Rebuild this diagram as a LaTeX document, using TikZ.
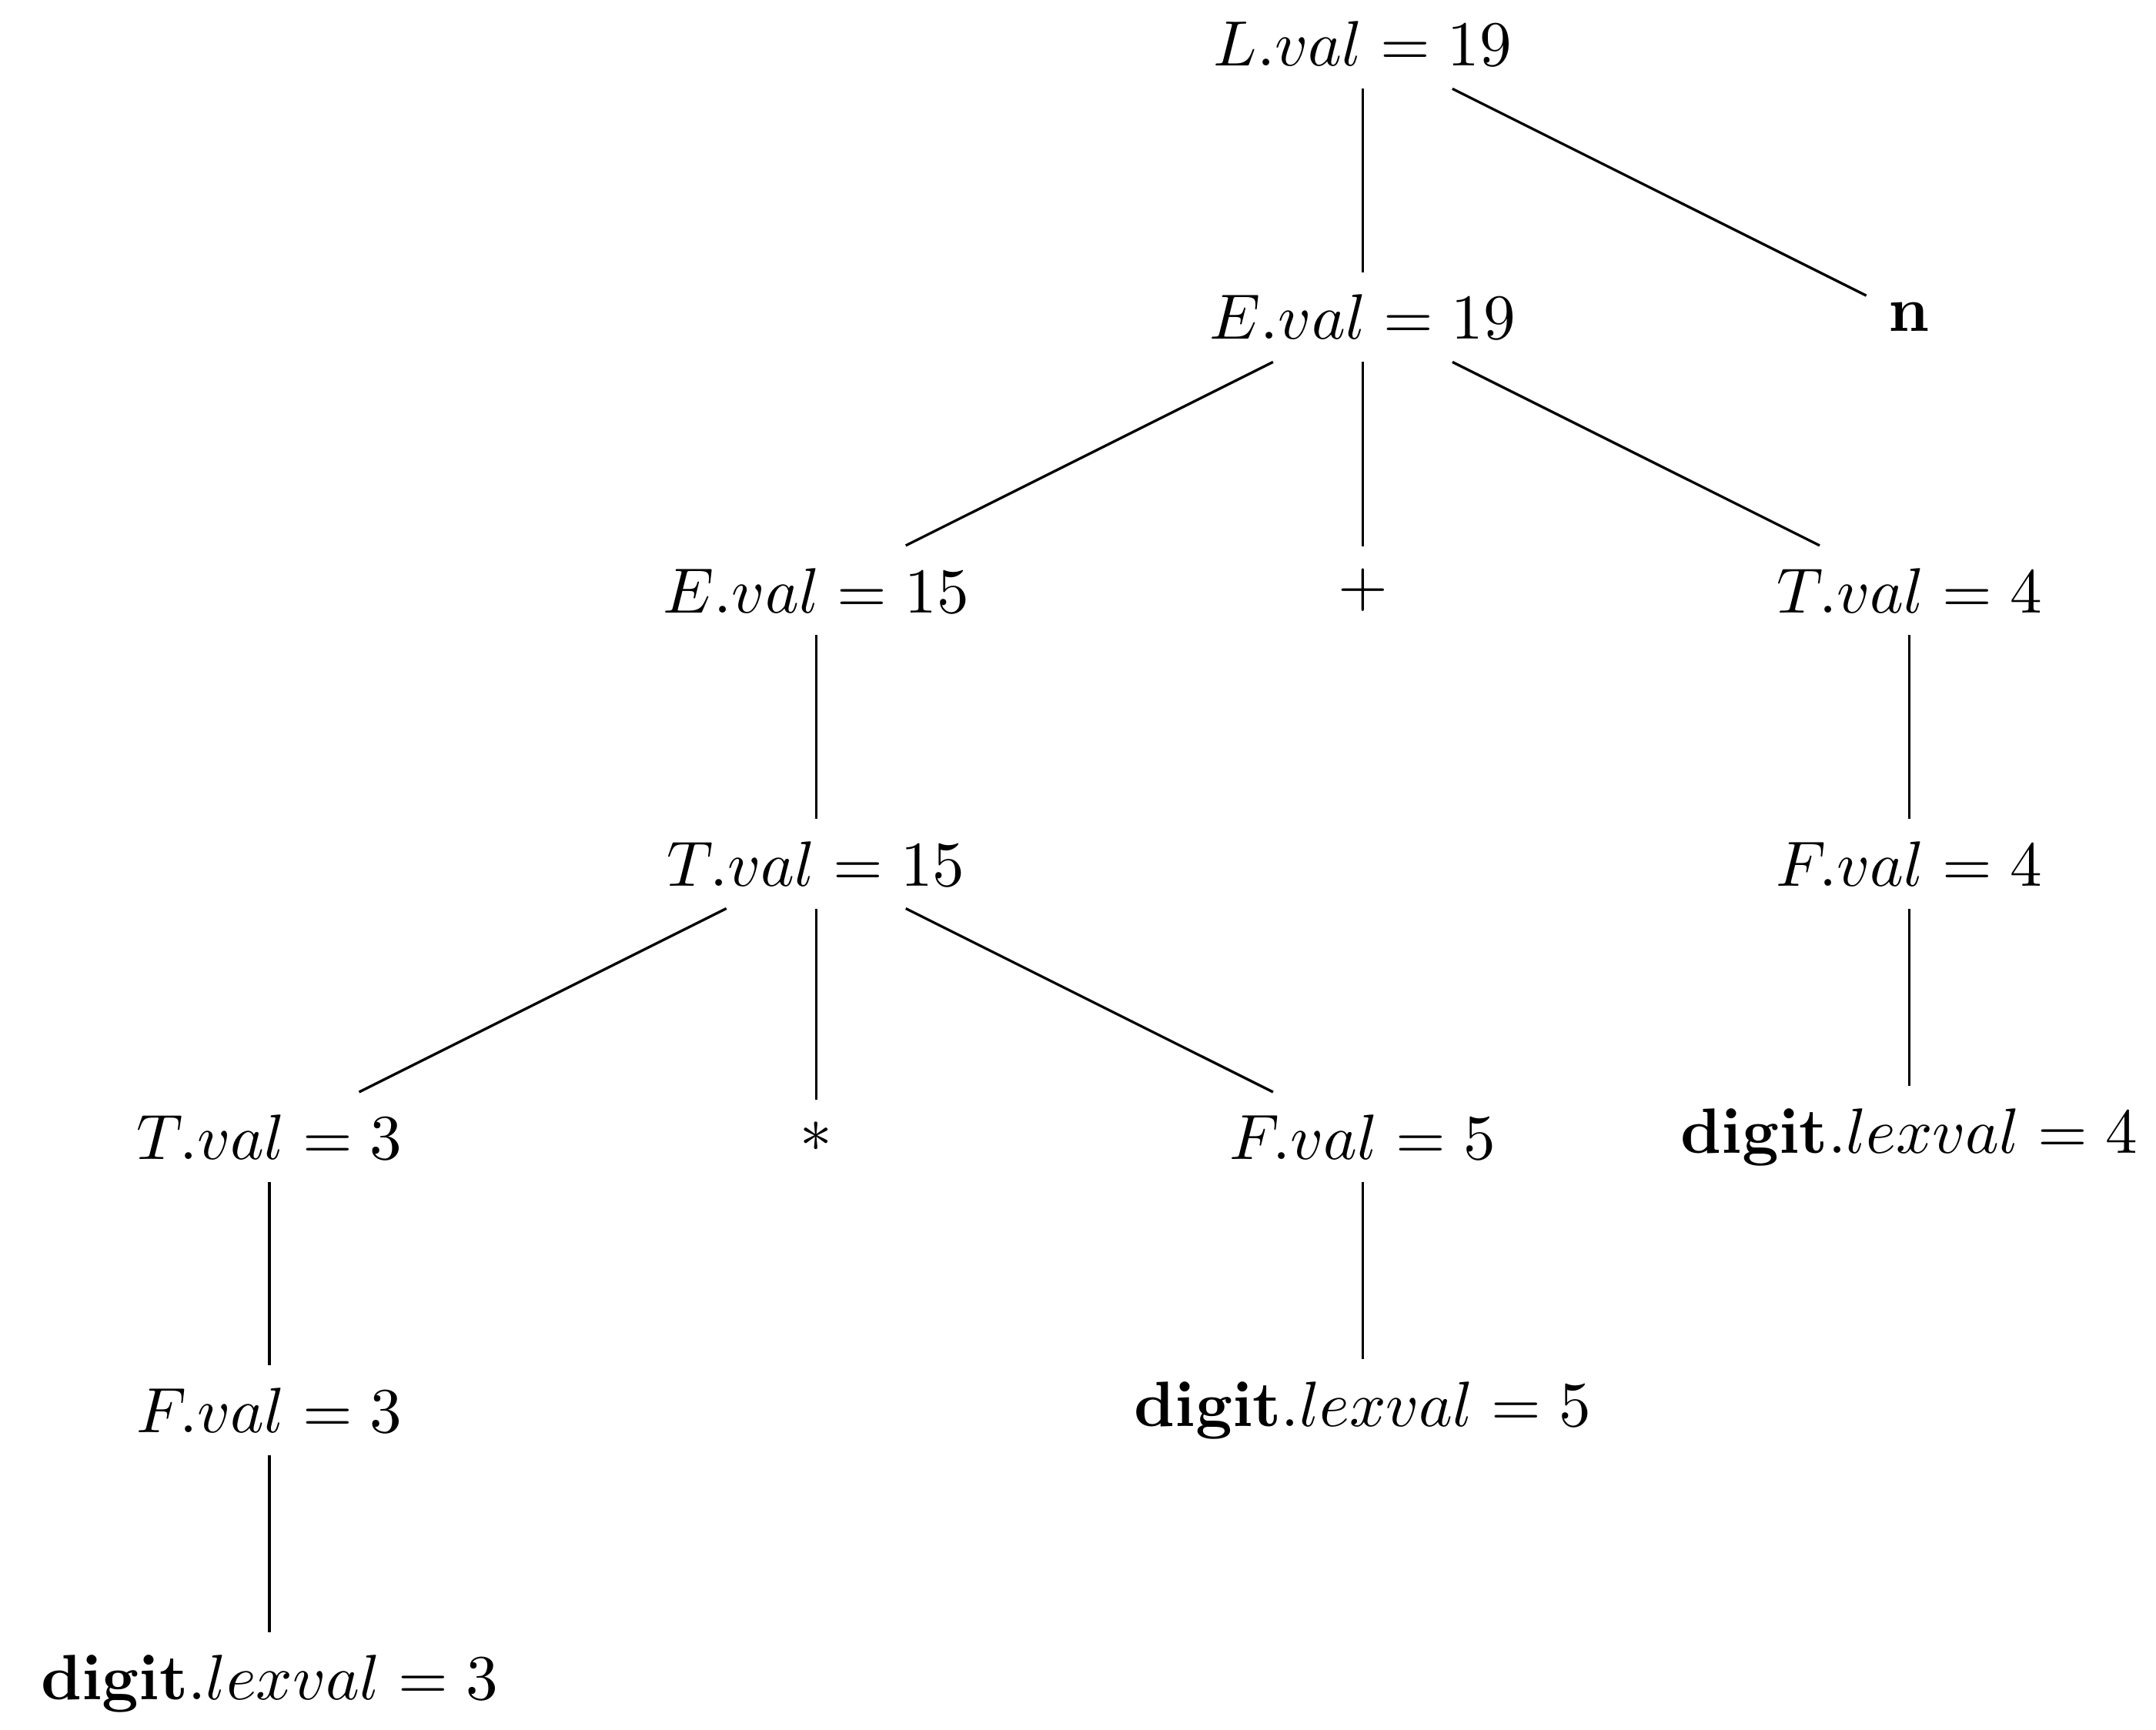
\documentclass[tikz,border=0pt]{standalone}
\begin{document}
\begin{tikzpicture}
\tikzset{tn/.style={}, edge/.style={draw=black, line width=0.4pt}}
\useasboundingbox (-7.479,0.241) rectangle (4.354,-9.252);
\node[tn] (L) at (0,0) {$L.val = 19$};
\node[tn] (E19) at (0,-1.5) {$E.val = 19$};
\node[tn] (n) at (3,-1.5) {$\mathbf{n}$};
\node[tn] (E15) at (-3,-3) {$E.val = 15$};
\node[tn] (plus) at (0,-3) {$+$};
\node[tn] (T4) at (3,-3) {$T.val = 4$};
\node[tn] (T15) at (-3,-4.5) {$T.val = 15$};
\node[tn] (F4) at (3,-4.5) {$F.val = 4$};
\node[tn] (T3) at (-6,-6) {$T.val = 3$};
\node[tn] (star) at (-3,-6) {$*$};
\node[tn] (F5) at (0,-6) {$F.val = 5$};
\node[tn] (d4) at (3,-6) {$\mathbf{digit}.lexval = 4$};
\node[tn] (F3) at (-6,-7.5) {$F.val = 3$};
\node[tn] (d5) at (0,-7.5) {$\mathbf{digit}.lexval = 5$};
\node[tn] (d3) at (-6,-9) {$\mathbf{digit}.lexval = 3$};
\draw[edge] (L) -- (E19);
\draw[edge] (L) -- (n);
\draw[edge] (E19) -- (E15);
\draw[edge] (E19) -- (plus);
\draw[edge] (E19) -- (T4);
\draw[edge] (E15) -- (T15);
\draw[edge] (T4) -- (F4);
\draw[edge] (T15) -- (T3);
\draw[edge] (T15) -- (star);
\draw[edge] (T15) -- (F5);
\draw[edge] (F4) -- (d4);
\draw[edge] (T3) -- (F3);
\draw[edge] (F5) -- (d5);
\draw[edge] (F3) -- (d3);
\end{tikzpicture}
\end{document}
